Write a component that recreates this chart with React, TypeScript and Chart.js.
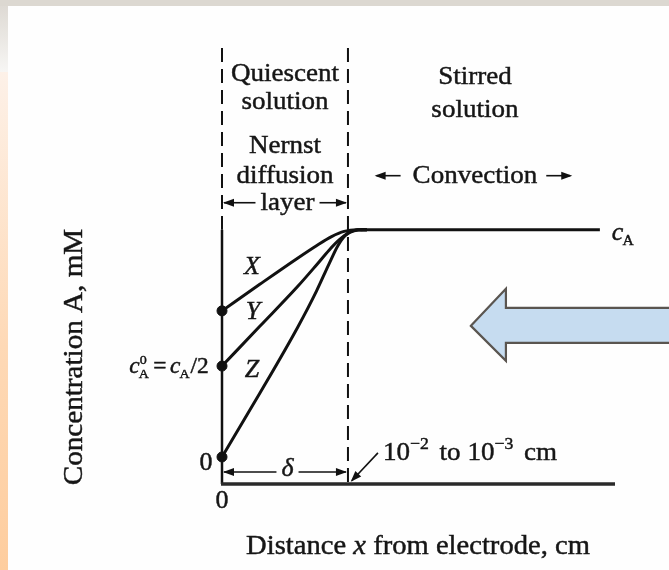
import React, { useEffect, useRef } from "react";
import { Chart, registerables } from "chart.js";

Chart.register(...registerables);

// ---- data (distance in units of the diffusion-layer thickness δ, concentration in units of cA) ----
const curveXDistance = [0, 0.3, 0.6, 0.75, 0.87, 0.97, 1.07, 1.15];
const curveXConc = [0.643, 0.76, 0.875, 0.93, 0.97, 0.993, 1.0, 1.0];
const curveYDistance = [0, 0.3, 0.6, 0.75, 0.85, 0.93, 1.0, 1.08, 1.15];
const curveYConc = [0.4, 0.575, 0.75, 0.845, 0.91, 0.955, 0.985, 1.0, 1.0];
const curveZDistance = [0, 0.3, 0.6, 0.75, 0.85, 0.92, 0.98, 1.05, 1.15];
const curveZConc = [0, 0.28, 0.57, 0.73, 0.85, 0.93, 0.975, 0.996, 1.0];
const bulkDistance = [1.1, 3.0];
const bulkConc = [1, 1];
const curveNames = ["X", "Y", "Z"];

const xRange = [0, 3.12];
const yRange = [-0.119, 1.8];
const layerEdge = 1; // δ
const xTickLabels = ["0"];
const yTickLabels = ["0"];
const yTickValues = [0];
const halfConcValue = 0.4;

const FONT = '"Liberation Serif", "Times New Roman", serif';
const SX = 1.04;
const INK = "#161616";

function toPoints(xs: number[], ys: number[]) {
  return xs.map((x, i) => ({ x, y: ys[i] }));
}

function setFont(ctx: CanvasRenderingContext2D, size: number, italic = false) {
  ctx.font = `${italic ? "italic " : ""}${size}px ${FONT}`;
}
function measure(ctx: CanvasRenderingContext2D, s: string, size: number, italic = false) {
  ctx.save();
  setFont(ctx, size, italic);
  const w = ctx.measureText(s).width * SX;
  ctx.restore();
  return w;
}
function text(
  ctx: CanvasRenderingContext2D,
  s: string,
  x: number,
  y: number,
  size: number,
  align: CanvasTextAlign = "left",
  italic = false
) {
  ctx.save();
  setFont(ctx, size, italic);
  ctx.fillStyle = INK;
  ctx.strokeStyle = INK;
  ctx.lineWidth = 0.45;
  ctx.textBaseline = "alphabetic";
  ctx.textAlign = align;
  ctx.translate(x, y);
  ctx.scale(SX, 1);
  ctx.fillText(s, 0, 0);
  ctx.strokeText(s, 0, 0);
  ctx.restore();
}
function head(ctx: CanvasRenderingContext2D, x: number, y: number, angle: number) {
  ctx.save();
  ctx.translate(x, y);
  ctx.rotate(angle);
  ctx.beginPath();
  ctx.moveTo(0, 0);
  ctx.lineTo(-11, -4);
  ctx.lineTo(-11, 4);
  ctx.closePath();
  ctx.fillStyle = "#111";
  ctx.fill();
  ctx.restore();
}
function line(ctx: CanvasRenderingContext2D, x1: number, y1: number, x2: number, y2: number, w: number, dash: number[] = [], color = "#111") {
  ctx.save();
  ctx.strokeStyle = color;
  ctx.lineWidth = w;
  ctx.setLineDash(dash);
  ctx.beginPath();
  ctx.moveTo(x1, y1);
  ctx.lineTo(x2, y2);
  ctx.stroke();
  ctx.restore();
}
// text with arrows to both edges: |<-- label -->|
function spanLabel(ctx: CanvasRenderingContext2D, label: string, x1: number, x2: number, yLine: number, yBase: number, size: number, italic: boolean, cx: number) {
  const w = measure(ctx, label, size, italic);
  text(ctx, label, cx, yBase, size, "center", italic);
  const gap = 5;
  line(ctx, x1 + 2, yLine, cx - w / 2 - gap, yLine, 1.6);
  line(ctx, cx + w / 2 + gap, yLine, x2 - 2, yLine, 1.6);
  head(ctx, x1 + 1, yLine, Math.PI);
  head(ctx, x2 - 1, yLine, 0);
}

const backgroundPlugin = {
  id: "bg",
  beforeDraw(chart: any) {
    const { ctx, width, height } = chart;
    ctx.save();
    ctx.fillStyle = "#fefefe";
    ctx.fillRect(0, 0, width, height);
    ctx.fillStyle = "#dcd8d1";
    ctx.fillRect(0, 0, width, 6);
    let g = ctx.createLinearGradient(0, 6, 0, 72);
    g.addColorStop(0, "#dedad4");
    g.addColorStop(1, "#f7f6f4");
    ctx.fillStyle = g;
    ctx.fillRect(0, 6, 8, 66);
    g = ctx.createLinearGradient(0, 72, 0, height);
    g.addColorStop(0, "#fdf1e8");
    g.addColorStop(0.55, "#fed9b6");
    g.addColorStop(1, "#fecd9e");
    ctx.fillStyle = g;
    ctx.fillRect(0, 72, 8, height - 72);
    ctx.restore();
  },
};

const annotationPlugin = {
  id: "notes",
  afterDraw(chart: any) {
    const { ctx } = chart;
    const xs = chart.scales.x;
    const ys = chart.scales.y;
    const X = (v: number) => xs.getPixelForValue(v);
    const Y = (v: number) => ys.getPixelForValue(v);

    // axes and layer boundaries
    line(ctx, X(0), Y(yRange[1]), X(0), Y(1.0), 2, [14, 7]);
    line(ctx, X(0), Y(1.0), X(0), Y(yRange[0]), 2.5);
    line(ctx, X(layerEdge), Y(yRange[1]), X(layerEdge), Y(yRange[0]), 2, [14, 7]);
    line(ctx, X(0) - 1, Y(yRange[0]), X(xRange[1]), Y(yRange[0]), 3.5, [], "#2a2a2a");

    // top labels
    const s = 26;
    text(ctx, "Quiescent", X(0.5), Y(1.656), s, "center");
    text(ctx, "solution", X(0.5), Y(1.533), s, "center");
    text(ctx, "Nernst", X(0.5), Y(1.339), s, "center");
    text(ctx, "diffusion", X(0.5), Y(1.207), s, "center");
    spanLabel(ctx, "layer", X(0), X(layerEdge), Y(1.119), Y(1.088), s, false, X(0.52));

    text(ctx, "Stirred", X(2.008), Y(1.643), s, "center");
    text(ctx, "solution", X(2.008), Y(1.498), s, "center");
    const cw = measure(ctx, "Convection", s);
    const cc = X(2.008);
    const cy = Y(1.238);
    text(ctx, "Convection", cc, Y(1.207), s, "center");
    line(ctx, cc - cw / 2 - 36, cy, cc - cw / 2 - 12, cy, 1.6);
    head(ctx, cc - cw / 2 - 38, cy, Math.PI);
    line(ctx, cc + cw / 2 + 9, cy, cc + cw / 2 + 33, cy, 1.6);
    head(ctx, cc + cw / 2 + 35, cy, 0);

    // curve names
    text(ctx, curveNames[0], X(0.238), Y(0.806), 25, "center", true);
    text(ctx, curveNames[1], X(0.246), Y(0.608), 25, "center", true);
    text(ctx, curveNames[2], X(0.238), Y(0.352), 25, "center", true);

    // y tick labels
    text(ctx, yTickLabels[0], X(-0.075), Y(yTickValues[0] - 0.057), 25, "right");
    // c_A^0 = c_A/2
    {
      const big = 22.5, small = 13.5;
      const parts = [
        { w: measure(ctx, "c", big, true) },
        { w: measure(ctx, "A", small) },
        { w: measure(ctx, "=", big) + 7 },
        { w: measure(ctx, "c", big, true) },
        { w: measure(ctx, "A", small) },
        { w: measure(ctx, "/2", big) },
      ];
      const total = parts.reduce((a, p) => a + p.w, 0);
      let x = X(-0.105) - total;
      const yb = Y(halfConcValue - 0.03);
      text(ctx, "c", x, yb, big, "left", true);
      x += parts[0].w;
      text(ctx, "0", x, yb - 9, small, "left");
      text(ctx, "A", x - 1, yb + 5, small, "left");
      x += parts[1].w;
      text(ctx, "=", x + parts[2].w / 2, yb, big, "center");
      x += parts[2].w;
      text(ctx, "c", x, yb, big, "left", true);
      x += parts[3].w;
      text(ctx, "A", x - 1, yb + 5, small, "left");
      x += parts[4].w;
      text(ctx, "/2", x, yb, big, "left");
    }
    // x tick label
    text(ctx, xTickLabels[0], X(0), Y(-0.225), 25, "center");

    // delta span
    spanLabel(ctx, "δ", X(0), X(layerEdge), Y(-0.066), Y(-0.085), 25, true, X(0.52));

    // 10^-2 to 10^-3 cm
    {
      let x = X(1.278);
      const yb = Y(-0.013);
      const seq: [string, number, number, number][] = [
        ["10", 26, 0, 0],
        ["−2", 17, -11, 4],
        [" to 10", 26, 0, 0],
        ["−3", 17, -11, 4],
        [" cm", 26, 0, 0],
      ];
      for (const [str, sz, dy, extra] of seq) {
        text(ctx, str, x, yb + dy, sz, "left");
        x += measure(ctx, str, sz) + extra;
      }
      const x1 = X(1.238), y1 = Y(0.018), x2 = X(1.03), y2 = Y(-0.105);
      line(ctx, x1, y1, x2, y2, 1.6);
      head(ctx, x2 - 1, y2 + 1, Math.atan2(y2 - y1, x2 - x1));
    }

    // c_A at right end
    text(ctx, "c", X(3.095), Y(0.956), 25, "left", true);
    text(ctx, "A", X(3.095) + measure(ctx, "c", 25, true) - 1, Y(0.956) + 5, 15, "left");

    // axis titles
    ctx.save();
    ctx.translate(X(-1.19), Y(0.44));
    ctx.rotate(-Math.PI / 2);
    text(ctx, "Concentration A, mM", 0, 10, 28, "center");
    ctx.restore();
    {
      const a = "Distance ", b = "x", c = " from electrode, cm";
      const sz = 27.5;
      const wa = measure(ctx, a, sz), wb = measure(ctx, b, sz, true), wc = measure(ctx, c, sz);
      let x = X(1.556) - (wa + wb + wc) / 2;
      const yb = Y(-0.427);
      text(ctx, a, x, yb, sz);
      x += wa;
      text(ctx, b, x, yb, sz, "left", true);
      x += wb;
      text(ctx, c, x, yb, sz);
    }

    // big blue arrow
    ctx.save();
    ctx.beginPath();
    ctx.moveTo(X(1.976), Y(0.577));
    ctx.lineTo(X(2.254), Y(0.74));
    ctx.lineTo(X(2.254), Y(0.656));
    ctx.lineTo(X(3.6), Y(0.656));
    ctx.lineTo(X(3.6), Y(0.502));
    ctx.lineTo(X(2.254), Y(0.502));
    ctx.lineTo(X(2.254), Y(0.423));
    ctx.closePath();
    ctx.fillStyle = "#c6dcf0";
    ctx.fill();
    ctx.lineWidth = 2.2;
    ctx.strokeStyle = "#5a5550";
    ctx.stroke();
    ctx.restore();
  },
};

export default function App() {
  const ref = useRef<HTMLCanvasElement | null>(null);
  useEffect(() => {
    if (!ref.current) return;
    const dot = (c: any) => (c.dataIndex === 0 ? 5 : 0);
    const base = {
      borderColor: "#111",
      backgroundColor: "#111",
      pointBackgroundColor: "#111",
      pointBorderColor: "#111",
      borderWidth: 3,
      cubicInterpolationMode: "monotone" as const,
      pointRadius: dot,
      pointBorderWidth: 1,
      fill: false,
      clip: false as const,
    };
    const chart = new Chart(ref.current, {
      type: "line",
      data: {
        datasets: [
          { ...base, label: "X", data: toPoints(curveXDistance, curveXConc) },
          { ...base, label: "Y", data: toPoints(curveYDistance, curveYConc) },
          { ...base, label: "Z", data: toPoints(curveZDistance, curveZConc) },
          { ...base, label: "bulk", data: toPoints(bulkDistance, bulkConc), pointRadius: 0 },
        ],
      },
      options: {
        animation: false,
        responsive: false,
        devicePixelRatio: 1,
        layout: { padding: { left: 222, right: 54, top: 48, bottom: 86 } },
        scales: {
          x: { type: "linear", min: xRange[0], max: xRange[1], display: false },
          y: { type: "linear", min: yRange[0], max: yRange[1], display: false },
        },
        plugins: { legend: { display: false }, tooltip: { enabled: false } },
        elements: { point: { hoverRadius: 0 } },
      },
      plugins: [backgroundPlugin, annotationPlugin],
    });
    return () => chart.destroy();
  }, []);
  return (
    <div style={{ position: "fixed", left: 0, top: 0, width: 669, height: 570 }}>
      <canvas ref={ref} width={669} height={570} style={{ display: "block", width: 669, height: 570 }} />
    </div>
  );
}
